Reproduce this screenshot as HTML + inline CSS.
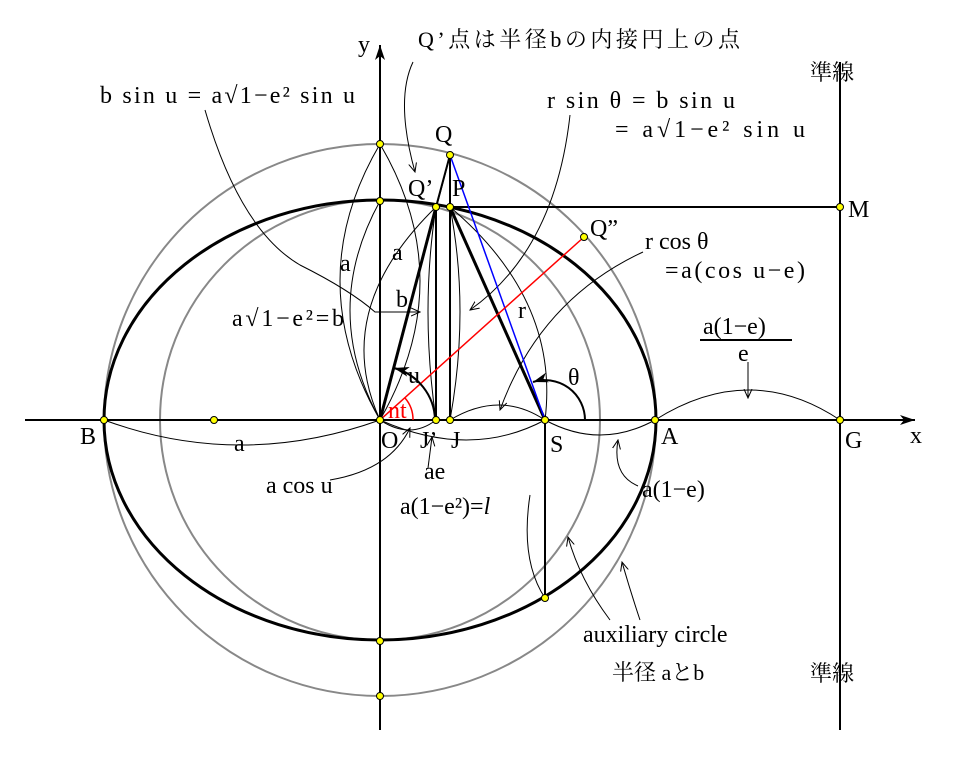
<!DOCTYPE html>
<html><head><meta charset="utf-8"><style>
html,body{margin:0;padding:0;background:#fff}
svg{display:block}
text{font-family:"Liberation Serif","Noto Serif CJK SC",serif;fill:#000;font-size:24px}
.j{font-family:"Liberation Serif","Noto Serif CJK JP",serif;font-size:22px}
.t{fill:none;stroke:#000;stroke-width:1}
</style></head><body>
<svg width="953" height="763" viewBox="0 0 953 763" xmlns="http://www.w3.org/2000/svg">
<defs>
<marker id="ar" markerWidth="10" markerHeight="10" refX="9" refY="5" orient="auto" markerUnits="userSpaceOnUse">
<path d="M0,1 L9,5 L0,9" fill="none" stroke="#000" stroke-width="1"/></marker>
<marker id="ax" markerWidth="16" markerHeight="12" refX="15" refY="6" orient="auto" markerUnits="userSpaceOnUse">
<path d="M0,1 L15,6 L0,11 L4,6 Z" fill="#000"/></marker>
</defs>
<circle cx="380" cy="420" r="276" fill="none" stroke="#888" stroke-width="2"/>
<circle cx="380" cy="420" r="220" fill="none" stroke="#888" stroke-width="2"/>
<ellipse cx="380" cy="420" rx="276" ry="220" fill="none" stroke="#000" stroke-width="3"/>
<line x1="25" y1="420" x2="915" y2="420" stroke="#000" stroke-width="2" marker-end="url(#ax)"/>
<line x1="380" y1="730" x2="380" y2="45" stroke="#000" stroke-width="2" marker-end="url(#ax)"/>
<line x1="840" y1="62" x2="840" y2="730" stroke="#000" stroke-width="2"/>
<line x1="450" y1="207" x2="840" y2="207" stroke="#000" stroke-width="2"/>
<g class="t">
<path d="M104,420 Q240,470 380,420"/>
<path d="M380,144 Q300,280 380,420"/>
<path d="M380,201 Q320,310 380,420"/>
<path d="M380,144 Q460,280 380,420"/>
<path d="M436,207 Q330,310 380,420"/>
<path d="M436,207 Q420,310 436,420"/>
<path d="M450,207 Q470,310 450,420"/>
<path d="M450,207 Q560,300 545,420"/>
<path d="M450,420 Q500,390 545,420"/>
<path d="M380,420 Q410,440 436,420"/>
<path d="M380,420 Q470,460 545,420"/>
<path d="M545,420 Q600,450 655,420"/>
<path d="M655,420 Q750,360 840,420"/>
<path d="M205,110 Q240,230 300,265 Q350,290 375,312 L420,312" marker-end="url(#ar)"/>
<path d="M570,115 Q555,250 470,310" marker-end="url(#ar)"/>
<path d="M643,252 Q540,300 500,410" marker-end="url(#ar)"/>
<path d="M413,62 Q395,100 415,172" marker-end="url(#ar)"/>
<path d="M748,362 L748,398" marker-end="url(#ar)"/>
<path d="M330,480 Q390,470 410,428" marker-end="url(#ar)"/>
<path d="M428,468 L432,437" marker-end="url(#ar)"/>
<path d="M530,495 Q520,560 545,598"/>
<path d="M638,486 Q612,475 618,440" marker-end="url(#ar)"/>
<path d="M610,620 Q580,580 568,537" marker-end="url(#ar)"/>
<path d="M640,620 Q630,590 622,562" marker-end="url(#ar)"/>
</g>
<line x1="380" y1="420" x2="450" y2="155" stroke="#000" stroke-width="1.5"/>
<line x1="380" y1="420" x2="436" y2="207" stroke="#000" stroke-width="3"/>
<line x1="436" y1="207" x2="436" y2="420" stroke="#000" stroke-width="2"/>
<line x1="450" y1="155" x2="450" y2="420" stroke="#000" stroke-width="2"/>
<line x1="450" y1="155" x2="436" y2="207" stroke="#000" stroke-width="2"/>
<line x1="450" y1="207" x2="545" y2="420" stroke="#000" stroke-width="3"/>
<line x1="450" y1="155" x2="545" y2="420" stroke="#00f" stroke-width="1.5"/>
<line x1="380" y1="420" x2="584" y2="237" stroke="#f00" stroke-width="1.5"/>
<line x1="545" y1="420" x2="545" y2="598" stroke="#000" stroke-width="2"/>
<path d="M435,420 A55,55 0 0 0 394,368" fill="none" stroke="#000" stroke-width="2" marker-end="url(#ax)"/>
<path d="M413,420 A33,33 0 0 0 405,398" fill="none" stroke="#f00" stroke-width="1.5"/>
<path d="M585,420 A40,40 0 0 0 533,382" fill="none" stroke="#000" stroke-width="2" marker-end="url(#ax)"/>
<g fill="#ff0" stroke="#000" stroke-width="1">
<circle cx="380" cy="144" r="3.5"/><circle cx="380" cy="201" r="3.5"/><circle cx="436" cy="207" r="3.5"/>
<circle cx="450" cy="207" r="3.5"/><circle cx="450" cy="155" r="3.5"/><circle cx="584" cy="237" r="3.5"/>
<circle cx="840" cy="207" r="3.5"/><circle cx="104" cy="420" r="3.5"/><circle cx="214" cy="420" r="3.5"/>
<circle cx="380" cy="420" r="3.5"/><circle cx="436" cy="420" r="3.5"/><circle cx="450" cy="420" r="3.5"/>
<circle cx="545" cy="420" r="3.5"/><circle cx="655" cy="420" r="3.5"/><circle cx="840" cy="420" r="3.5"/>
<circle cx="545" cy="598" r="3.5"/><circle cx="380" cy="641" r="3.5"/><circle cx="380" cy="696" r="3.5"/>
</g>
<text x="358" y="52">y</text>
<text x="910" y="443">x</text>
<text x="435" y="142">Q</text>
<text x="408" y="196">Q’</text>
<text x="452" y="196">P</text>
<text x="590" y="236">Q”</text>
<text x="848" y="217">M</text>
<text x="80" y="444">B</text>
<text x="381" y="448">O</text>
<text x="420" y="448">J’</text>
<text x="451" y="448">J</text>
<text x="550" y="452">S</text>
<text x="661" y="444">A</text>
<text x="845" y="448">G</text>
<text x="234" y="451">a</text>
<text x="266" y="493">a cos u</text>
<text x="424" y="479">ae</text>
<text x="400" y="514">a(1−e²)=<tspan font-style="italic">l</tspan></text>
<text x="642" y="497">a(1−e)</text>
<text x="703" y="334">a(1−e)</text>
<line x1="700" y1="340" x2="792" y2="340" stroke="#000" stroke-width="2"/>
<text x="738" y="361">e</text>
<text x="583" y="642">auxiliary circle</text>
<text class="j" x="612" y="680">半径 aとb</text>
<text x="518" y="318">r</text>
<text x="568" y="385">θ</text>
<text x="408" y="383">u</text>
<text x="388" y="418" style="fill:#f00">nt</text>
<text x="340" y="271">a</text>
<text x="392" y="260">a</text>
<text x="396" y="307">b</text>
<text x="232" y="326" textLength="112">a√1−e²=b</text>
<text x="100" y="103" textLength="255">b sin u = a√1−e² sin u</text>
<text class="j" x="418" y="47" textLength="322">Q’点は半径bの内接円上の点</text>
<text x="547" y="108" textLength="188">r sin θ = b sin u</text>
<text x="615" y="137" textLength="190">= a√1−e² sin u</text>
<text x="645" y="249">r cos θ</text>
<text x="665" y="278" textLength="140">=a(cos u−e)</text>
<text class="j" x="810" y="80">準線</text>
<text class="j" x="810" y="681">準線</text>
</svg>
</body></html>
